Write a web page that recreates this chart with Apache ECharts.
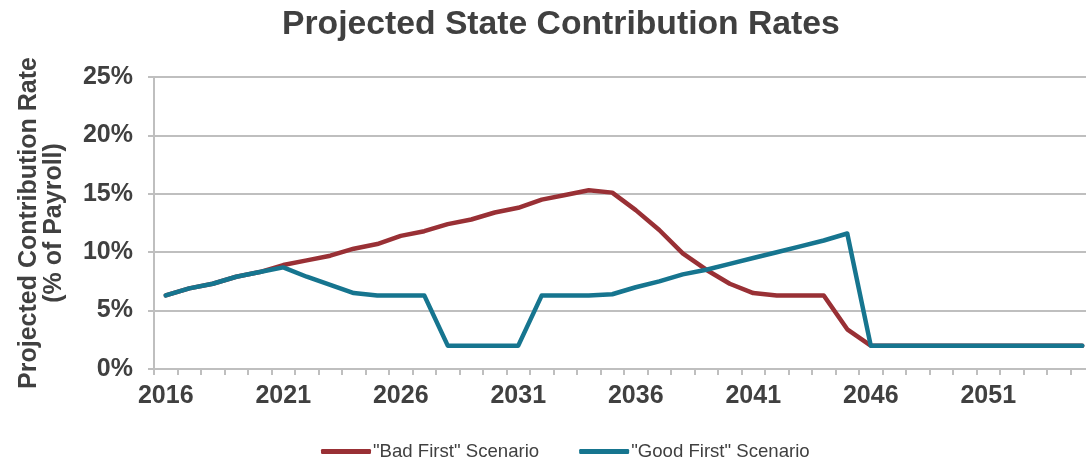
<!DOCTYPE html>
<html>
<head>
<meta charset="utf-8">
<script src="https://cdn.jsdelivr.net/npm/echarts@6/dist/echarts.min.js"></script>
<style>
html,body{margin:0;padding:0;background:#fff;overflow:hidden;width:1086px;height:461px;}
#chart{width:1100px;height:461px;}
</style>
</head>
<body>
<div id="chart"></div>
<script>
const years = [];
for (let y = 2016; y <= 2055; y++) years.push(String(y));
const badFirst = [6.3, 6.9, 7.3, 7.9, 8.3, 8.9, 9.3, 9.7, 10.3, 10.7,
  11.4, 11.8, 12.4, 12.8, 13.4, 13.8, 14.5, 14.9, 15.3, 15.1,
  13.6, 11.9, 9.9, 8.5, 7.3, 6.5, 6.3, 6.3, 6.3, 3.4,
  2.0, 2.0, 2.0, 2.0, 2.0, 2.0, 2.0, 2.0, 2.0, 2.0];
const goodFirst = [6.3, 6.9, 7.3, 7.9, 8.3, 8.7, 7.9, 7.2, 6.5, 6.3,
  6.3, 6.3, 2.0, 2.0, 2.0, 2.0, 6.3, 6.3, 6.3, 6.4,
  7.0, 7.5, 8.1, 8.5, 9.0, 9.5, 10.0, 10.5, 11.0, 11.6,
  2.0, 2.0, 2.0, 2.0, 2.0, 2.0, 2.0, 2.0, 2.0, 2.0];
const seriesNames = ['"Bad First" Scenario', '"Good First" Scenario'];
const titleText = 'Projected State Contribution Rates';
const yAxisName = 'Projected Contribution Rate\n(% of Payroll)';

const FONT = '"Liberation Sans", Arial, sans-serif';
const TXT = '#404040';
const GRID = '#BFBFBF';
const chart = echarts.init(document.getElementById('chart'), null, {renderer: 'canvas'});
chart.setOption({
  animation: false,
  backgroundColor: '#fff',
  textStyle: {fontFamily: FONT},
  title: {
    text: titleText,
    left: 277, top: 3,
    textStyle: {fontFamily: FONT, fontSize: 33.7, fontWeight: 'bold', color: TXT}
  },
  legend: {
    data: seriesNames,
    left: 316, top: 437,
    itemWidth: 50, itemHeight: 5, itemGap: 40,
    icon: 'roundRect',
    textStyle: {fontFamily: FONT, fontSize: 18.6, color: TXT, padding: [0, 0, 0, -3]}
  },
  grid: {left: 154, top: 77, width: 940, height: 292, containLabel: false},
  xAxis: {
    type: 'category',
    data: years,
    boundaryGap: true,
    axisLine: {show: true, lineStyle: {color: GRID, width: 2}},
    axisTick: {show: true, interval: 0, length: 6, lineStyle: {color: GRID, width: 2}},
    axisLabel: {interval: 4, margin: 15, fontFamily: FONT, fontSize: 25, fontWeight: 'bold', color: TXT},
    splitLine: {show: false}
  },
  yAxis: {
    type: 'value',
    min: 0, max: 25, interval: 5,
    name: yAxisName,
    nameLocation: 'middle',
    nameRotate: 90,
    nameGap: 87,
    nameTextStyle: {fontFamily: FONT, fontSize: 25, fontWeight: 'bold', color: TXT, lineHeight: 25, align: 'center'},
    axisLine: {show: true, lineStyle: {color: GRID, width: 2}},
    axisTick: {show: true, length: 6, lineStyle: {color: GRID, width: 2}},
    axisLabel: {formatter: '{value}%', margin: 21, fontFamily: FONT, fontSize: 25, fontWeight: 'bold', color: TXT},
    splitLine: {show: true, lineStyle: {color: GRID, width: 2}}
  },
  series: [
    {name: seriesNames[0], type: 'line', data: badFirst, symbol: 'none',
     lineStyle: {color: '#993035', width: 4.5, cap: 'round', join: 'round'}, itemStyle: {color: '#993035'}},
    {name: seriesNames[1], type: 'line', data: goodFirst, symbol: 'none',
     lineStyle: {color: '#16758F', width: 4.5, cap: 'round', join: 'round'}, itemStyle: {color: '#16758F'}}
  ]
});
</script>
</body>
</html>
